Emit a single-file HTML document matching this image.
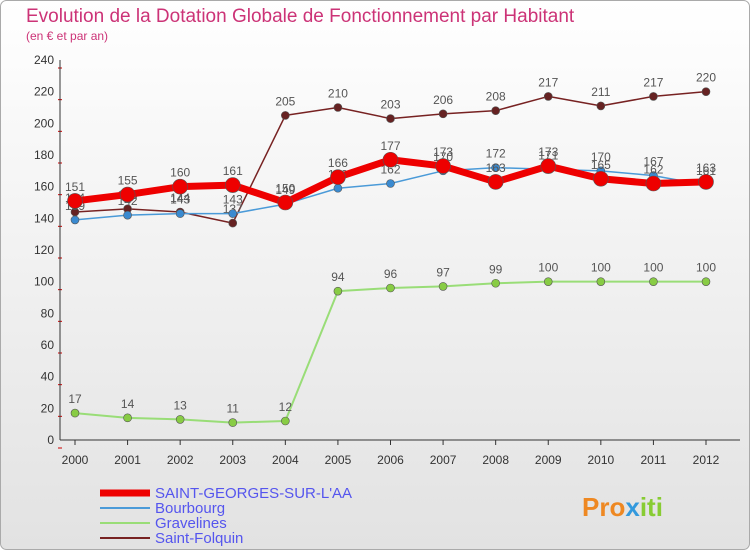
<!DOCTYPE html>
<html><head><meta charset="utf-8"><style>
body{margin:0;background:#fff}
svg{display:block;font-family:"Liberation Sans",sans-serif}
</style></head><body>
<svg id="c" width="750" height="550" viewBox="0 0 750 550">
<defs><linearGradient id="bg" x1="0" y1="0" x2="0" y2="1"><stop offset="0" stop-color="#ffffff"/><stop offset="1" stop-color="#e2e2e2"/></linearGradient></defs>
<rect x="0.5" y="0.5" width="749" height="549" rx="6" fill="url(#bg)" stroke="#aaa"/>
<text x="26" y="22" font-size="19" fill="#cc3377">Evolution de la Dotation Globale de Fonctionnement par Habitant</text>
<text x="26" y="40" font-size="12" fill="#cc3377">(en € et par an)</text>
<g id="axes"></g><g id="series"></g>
<g>
<line x1="100" y1="493" x2="150" y2="493" stroke="#ee0000" stroke-width="7"/>
<text x="155" y="498" font-size="15" fill="#5555ee">SAINT-GEORGES-SUR-L'AA</text>
<line x1="100" y1="508" x2="150" y2="508" stroke="#4a9ad8" stroke-width="2"/>
<text x="155" y="513" font-size="15" fill="#5555ee">Bourbourg</text>
<line x1="100" y1="523" x2="150" y2="523" stroke="#99dd77" stroke-width="2"/>
<text x="155" y="528" font-size="15" fill="#5555ee">Gravelines</text>
<line x1="100" y1="538" x2="150" y2="538" stroke="#772222" stroke-width="2"/>
<text x="155" y="543" font-size="15" fill="#5555ee">Saint-Folquin</text>
</g>
<text x="582" y="516" font-size="26" font-weight="bold" fill="#ee8822">Pro<tspan fill="#3399dd">x</tspan><tspan fill="#88cc33">iti</tspan></text>
</svg>
<script>
const years=[2000,2001,2002,2003,2004,2005,2006,2007,2008,2009,2010,2011,2012];
const stGeorges=[151,155,160,161,150,166,177,173,163,173,165,162,163];
const bourbourg=[139,142,143,143,149,159,162,170,172,171,170,167,161];
const gravelines=[17,14,13,11,12,94,96,97,99,100,100,100,100];
const stFolquin=[144,146,144,137,205,210,203,206,208,217,211,217,220];
const yTicks=[0,20,40,60,80,100,120,140,160,180,200,220,240];
const NS="http://www.w3.org/2000/svg";
const X=i=>75+i*(706-75)/12;
const Y=v=>440-v*(380/240);
function mk(t,a,p){const e=document.createElementNS(NS,t);for(const k in a)e.setAttribute(k,a[k]);p.appendChild(e);return e;}
const ax=document.getElementById('axes');
yTicks.forEach(v=>{
const t=mk('text',{x:54,y:Y(v)+4,'font-size':12,fill:'#333','text-anchor':'end'},ax);t.textContent=v;


const m=mk('line',{x1:58,x2:62,y1:Y(v)+8,y2:Y(v)+8,stroke:'#cc0000'},ax);


});
const ya=mk('line',{x1:60,x2:60,y1:60,y2:440,stroke:'#333'},ax);


const xa=mk('line',{x1:60,x2:740,y1:440,y2:440,stroke:'#333'},ax);


years.forEach((y,i)=>{
const t=mk('text',{x:X(i),y:464,'font-size':12,fill:'#333','text-anchor':'middle'},ax);t.textContent=y;


const k=mk('line',{x1:X(i),x2:X(i),y1:440,y2:445,stroke:'#333'},ax);


});
const sg=document.getElementById('series');
function series(name,vals,color,w,r,dot){
const g=mk('g',{},sg);


const p=mk('polyline',{points:vals.map((v,i)=>X(i)+','+Y(v)).join(' '),fill:'none',stroke:color,'stroke-width':w,'stroke-linejoin':'round'},g);


vals.forEach((v,i)=>{
const c=mk('circle',{cx:X(i),cy:Y(v),r:r,fill:dot,stroke:'#555','stroke-width':0.6},g);


const t=mk('text',{x:X(i),y:Y(v)-10,'font-size':12,fill:'#555','text-anchor':'middle'},g);t.textContent=v;


});
}
series('gravelines',gravelines,'#99dd77',2,4,'#88cc44');
series('saint-folquin',stFolquin,'#772222',1.5,4,'#662222');
series('bourbourg',bourbourg,'#4a9ad8',1.5,4,'#3a8ad0');
series('saint-georges',stGeorges,'#ee0000',7,7.5,'#ee0000');
</script>
</body></html>
